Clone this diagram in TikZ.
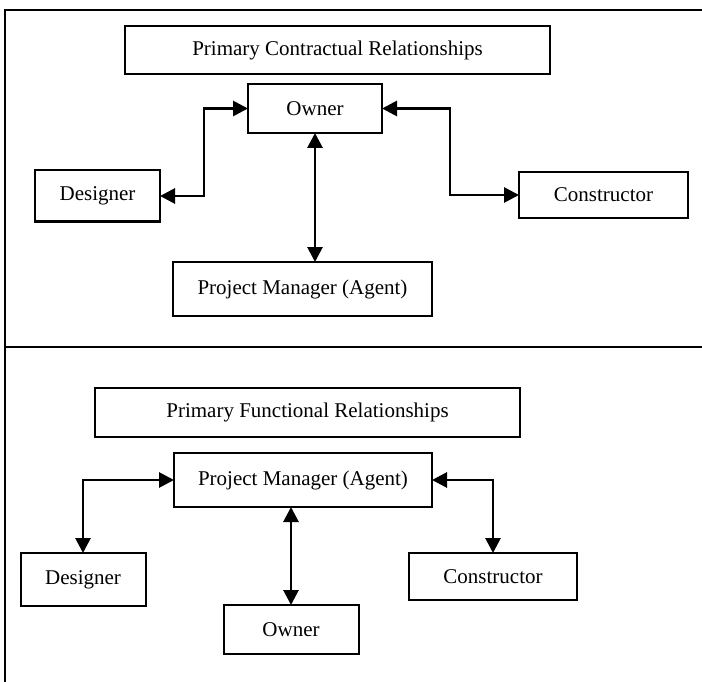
\documentclass[tikz,border=0pt]{standalone}
\usepackage{fontspec}
\setmainfont{Liberation Serif}
\usetikzlibrary{arrows.meta}

\begin{document}
\begin{tikzpicture}[x=1pt,y=-1pt,
  box/.style={draw=black,line width=2pt,inner sep=0pt,outer sep=0pt,
    font=\fontsize{21}{24}\selectfont},
  link/.style={line width=2.8pt,{Triangle[length=15pt,width=15pt]}-{Triangle[length=15pt,width=15pt]}}]
\useasboundingbox (0,0) rectangle (702,682);
\draw [line width=2.2pt] (5,682) -- (5,10) -- (702,10);
\draw [line width=2.2pt] (5,347) -- (702,347);
\node [box,minimum width=425pt,minimum height=48pt] (ctitle) at (337.5,50) {Primary Contractual Relationships};
\node [box,minimum width=134pt,minimum height=49pt] (cowner) at (315,108.5) {Owner};
\node [box,minimum width=125pt,minimum height=51pt] (cdesigner) at (97.5,196) {Designer};
\node [box,minimum width=169pt,minimum height=46pt] (cconstructor) at (603.5,195) {Constructor};
\node [box,minimum width=259pt,minimum height=54pt] (cpm) at (302.5,289) {Project Manager (Agent)};
\draw [link] (cowner.west) -- ++(-44,0) |- (cdesigner.east);
\draw [link] (cowner.east) -- ++(68,0) |- (cconstructor.west);
\draw [link] (cowner.south) -- (cowner.south |- cpm.north);
\node [box,minimum width=425pt,minimum height=49pt] (ftitle) at (307.5,412.5) {Primary Functional Relationships};
\node [box,minimum width=258pt,minimum height=54pt] (fpm) at (303,480) {Project Manager (Agent)};
\node [box,minimum width=125pt,minimum height=53pt] (fdesigner) at (83,579.5) {Designer};
\node [box,minimum width=168pt,minimum height=47pt] (fconstructor) at (493,576.5) {Constructor};
\node [box,minimum width=135pt,minimum height=49pt] (fowner) at (291,629.5) {Owner};
\draw [link] (fpm.west) -| (fdesigner.north);
\draw [link] (fpm.east) -| (fconstructor.north);
\draw [link] (fowner.north |- fpm.south) -- (fowner.north);
\end{tikzpicture}
\end{document}
